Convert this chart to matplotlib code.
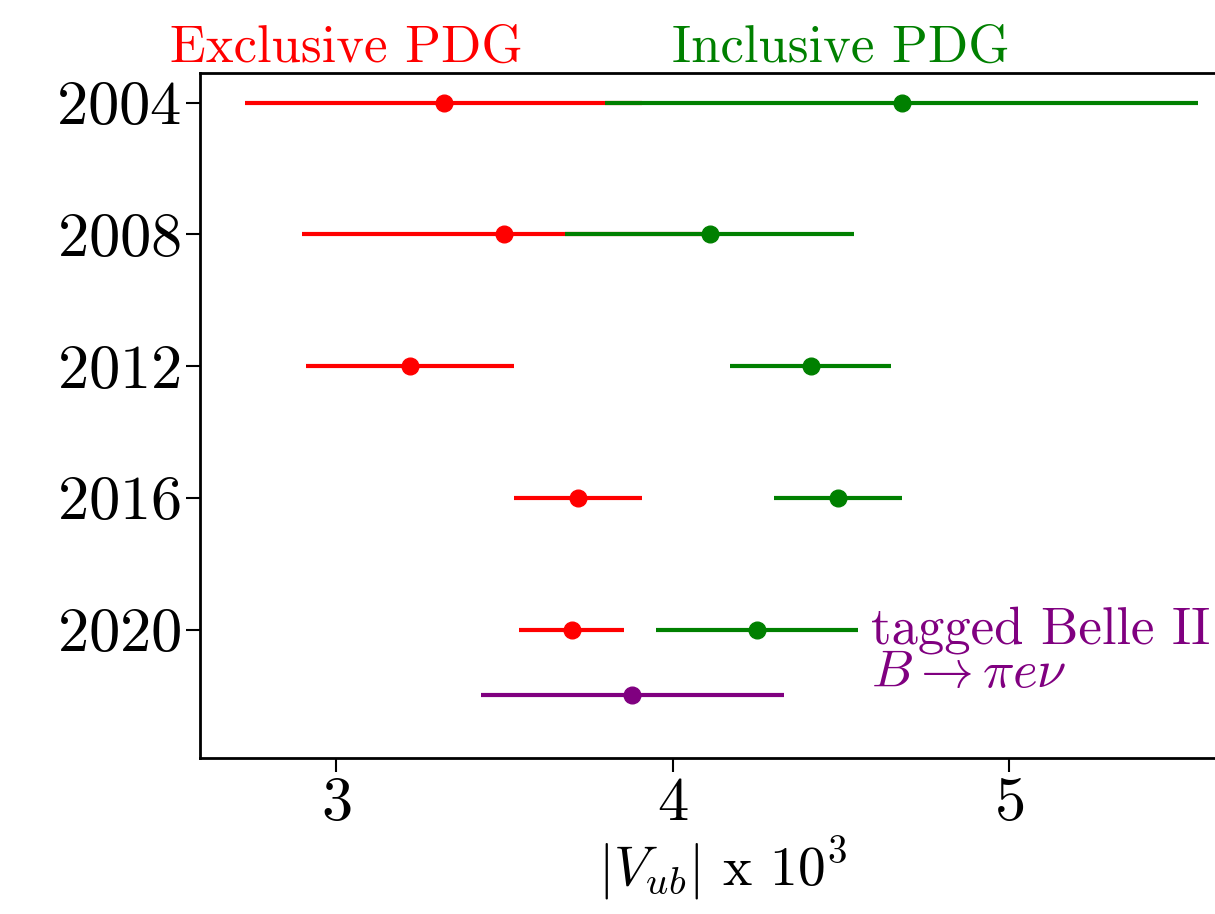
import matplotlib.pyplot as plt

plt.rcParams['font.family'] = 'cmr10'
plt.rcParams['mathtext.fontset'] = 'cm'
plt.rcParams['axes.formatter.use_mathtext'] = True

# |Vub| x 10^3 values
years = [2004, 2008, 2012, 2016, 2020]
excl_val = [3.32, 3.50, 3.22, 3.72, 3.70]
excl_err = [0.59, 0.60, 0.31, 0.19, 0.155]
incl_val = [4.68, 4.11, 4.41, 4.49, 4.25]
incl_err = [0.88, 0.43, 0.24, 0.19, 0.30]
belle_year = [2022]
belle_val = [3.88]
belle_err = [0.45]

fig = plt.figure(figsize=(12.15, 9.14), dpi=100)
ax = fig.add_axes([0.1646, 0.1707, 0.860, 0.7495])

ax.errorbar(excl_val, years, xerr=excl_err, fmt='o', color='red', lw=3, ms=12, capsize=0)
ax.errorbar(incl_val, years, xerr=incl_err, fmt='o', color='green', lw=3, ms=12, capsize=0)
ax.errorbar(belle_val, belle_year, xerr=belle_err, fmt='o', color='purple', lw=3, ms=12, capsize=0)

ax.text(3.03, 2003.05, 'Exclusive PDG', color='red', fontsize=38, ha='center', va='bottom')
ax.text(4.50, 2003.05, 'Inclusive PDG', color='green', fontsize=38, ha='center', va='bottom')
ax.text(4.59, 2020, 'tagged Belle II', color='purple', fontsize=38, ha='left', va='center')
ax.text(4.59, 2021.35, r'$B\to\pi e\nu$', color='purple', fontsize=38, ha='left', va='center')

ax.set_xlim(2.596, 5.70)
ax.set_ylim(2023.9, 2003.1)
ax.set_yticks(years)
ax.set_xticks([3, 4, 5])
ax.tick_params(labelsize=45, length=10, width=1.5)
ax.set_xlabel(r'$|V_{ub}|$ x $10^3$', fontsize=40, labelpad=2)
for s in ax.spines.values():
    s.set_linewidth(2)

fig.savefig('out.png', dpi=100)
